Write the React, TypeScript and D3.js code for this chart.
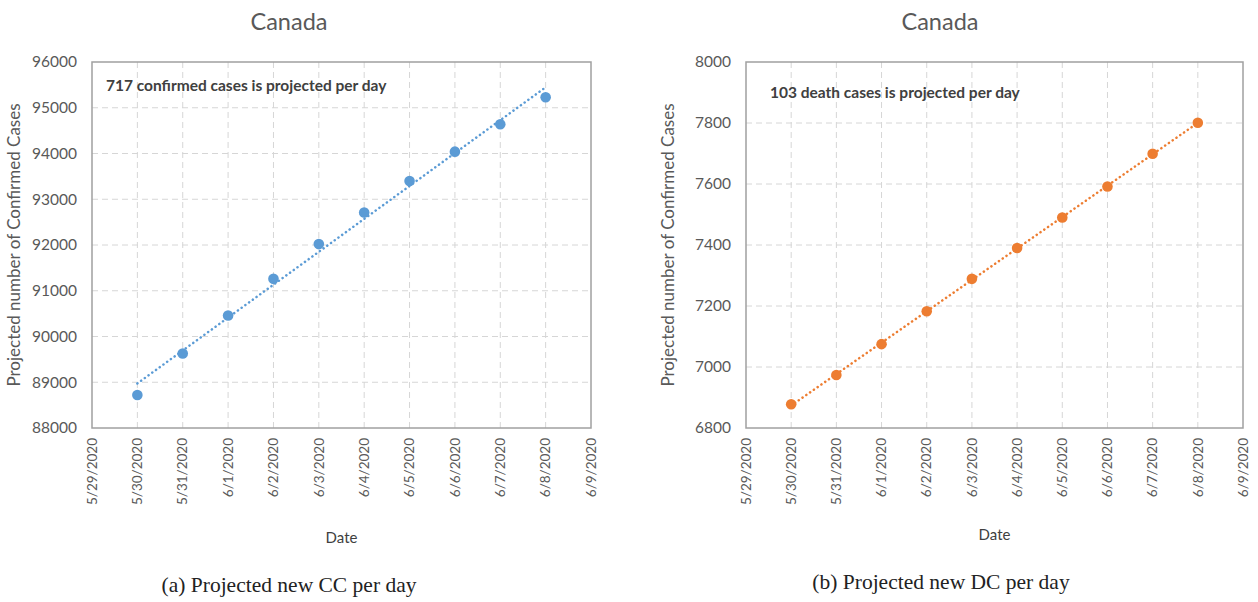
import React, { useEffect, useRef } from 'react';
import * as d3 from 'd3';

// data
const dates = ['2020-05-30', '2020-05-31', '2020-06-01', '2020-06-02', '2020-06-03',
  '2020-06-04', '2020-06-05', '2020-06-06', '2020-06-07', '2020-06-08'];
const confirmed = [88720, 89630, 90460, 91260, 92020, 92710, 93400, 94040, 94640, 95230];
const deaths = [6878, 6974, 7075, 7183, 7289, 7390, 7490, 7592, 7699, 7801];

const ccTicks = [88000, 89000, 90000, 91000, 92000, 93000, 94000, 95000, 96000];
const dcTicks = [6800, 7000, 7200, 7400, 7600, 7800, 8000];

const panels = [
  {
    left: 92, right: 591, values: confirmed, yDomain: [88000, 96000], ticks: ccTicks,
    color: '#5b9bd5', note: '717 confirmed cases is projected per day', noteX: 106, noteY: 91,
    title: 289, caption: '(a) Projected new CC per day', captionX: 289, captionY: 592, dateY: 543,
  },
  {
    left: 746, right: 1243, values: deaths, yDomain: [6800, 8000], ticks: dcTicks,
    color: '#ed7d31', note: '103 death cases is projected per day', noteX: 770, noteY: 98,
    title: 940, caption: '(b) Projected new DC per day', captionX: 941, captionY: 589, dateY: 540,
  },
];

const parse = d3.timeParse('%Y-%m-%d');
const fmt = d3.timeFormat('%-m/%-d/%Y');
const font = 'Lato, "Open Sans", sans-serif';

function drawPanel(svg, p) {
  const top = 62, bottom = 428;
  const data = dates.map((d, i) => ({ date: parse(d), value: p.values[i] }));

  const x = d3.scaleTime()
    .domain([d3.timeDay.offset(data[0].date, -1), d3.timeDay.offset(data[data.length - 1].date, 1)])
    .range([p.left, p.right]);
  const y = d3.scaleLinear().domain(p.yDomain).range([bottom, top]);
  const xTicks = d3.timeDay.range(x.domain()[0], d3.timeDay.offset(x.domain()[1], 1));

  const g = svg.append('g');

  // grid
  g.append('g').selectAll('line').data(p.ticks.slice(1, -1)).join('line')
    .attr('x1', p.left).attr('x2', p.right)
    .attr('y1', d => y(d)).attr('y2', d => y(d))
    .attr('stroke', '#d6d6d6').attr('stroke-dasharray', '6,4');
  g.append('g').selectAll('line').data(xTicks.slice(1, -1)).join('line')
    .attr('x1', d => x(d)).attr('x2', d => x(d))
    .attr('y1', top).attr('y2', bottom)
    .attr('stroke', '#d6d6d6').attr('stroke-dasharray', '6,4');

  // frame
  g.append('rect')
    .attr('x', p.left).attr('y', top)
    .attr('width', p.right - p.left).attr('height', bottom - top)
    .attr('fill', 'none').attr('stroke', '#a0a0a0').attr('stroke-width', 1.5);

  // y ticks
  g.append('g').selectAll('text').data(p.ticks).join('text')
    .attr('x', p.left - 15).attr('y', d => y(d)).attr('dy', '0.35em')
    .attr('text-anchor', 'end')
    .attr('font-family', font).attr('font-size', 15.5).attr('fill', '#595959')
    .text(d => d);

  // x ticks
  g.append('g').selectAll('text').data(xTicks).join('text')
    .attr('transform', d => `translate(${x(d)},${bottom + 10}) rotate(-90)`)
    .attr('dy', '0.35em').attr('text-anchor', 'end')
    .attr('font-family', font).attr('font-size', 13.5).attr('fill', '#595959')
    .text(d => fmt(d));

  // trend line (least squares)
  const idx = data.map((_, i) => i);
  const mx = d3.mean(idx), my = d3.mean(p.values);
  const slope = d3.sum(idx, i => (i - mx) * (p.values[i] - my)) / d3.sum(idx, i => (i - mx) ** 2);
  const trend = [0, data.length - 1].map(i => ({ date: data[i].date, value: my + slope * (i - mx) }));
  g.append('path')
    .datum(trend)
    .attr('d', d3.line().x(d => x(d.date)).y(d => y(d.value)))
    .attr('fill', 'none').attr('stroke', p.color).attr('stroke-width', 2.5)
    .attr('stroke-dasharray', '0.1,4.5').attr('stroke-linecap', 'round');

  // points
  g.append('g').selectAll('circle').data(data).join('circle')
    .attr('cx', d => x(d.date)).attr('cy', d => y(d.value)).attr('r', 5.3)
    .attr('fill', p.color);

  // note
  g.append('text')
    .attr('x', p.noteX).attr('y', p.noteY)
    .attr('font-family', font).attr('font-size', 15.5).attr('font-weight', 'bold').attr('fill', '#404040')
    .text(p.note);

  // titles
  const cx = (p.left + p.right) / 2;
  g.append('text')
    .attr('x', p.title).attr('y', 30).attr('text-anchor', 'middle')
    .attr('font-family', font).attr('font-size', 23.5).attr('fill', '#595959')
    .text('Canada');
  g.append('text')
    .attr('transform', `translate(${p.left - 72},${(top + bottom) / 2}) rotate(-90)`)
    .attr('text-anchor', 'middle')
    .attr('font-family', font).attr('font-size', 17).attr('fill', '#595959')
    .text('Projected number of Confirmed Cases');
  g.append('text')
    .attr('x', cx).attr('y', p.dateY).attr('text-anchor', 'middle')
    .attr('font-family', font).attr('font-size', 15).attr('fill', '#404040')
    .text('Date');
  g.append('text')
    .attr('x', p.captionX).attr('y', p.captionY).attr('text-anchor', 'middle')
    .attr('font-family', '"Liberation Serif", serif').attr('font-size', 21.5).attr('fill', '#222')
    .text(p.caption);
}

export default function App() {
  const ref = useRef(null);

  useEffect(() => {
    const svg = d3.select(ref.current);
    svg.selectAll('*').remove();
    panels.forEach(p => drawPanel(svg, p));
  }, []);

  return (
    <div style={{ position: 'absolute', left: 0, top: 0 }}>
      <svg ref={ref} width={1258} height={602} style={{ background: '#fff', display: 'block' }} />
    </div>
  );
}
